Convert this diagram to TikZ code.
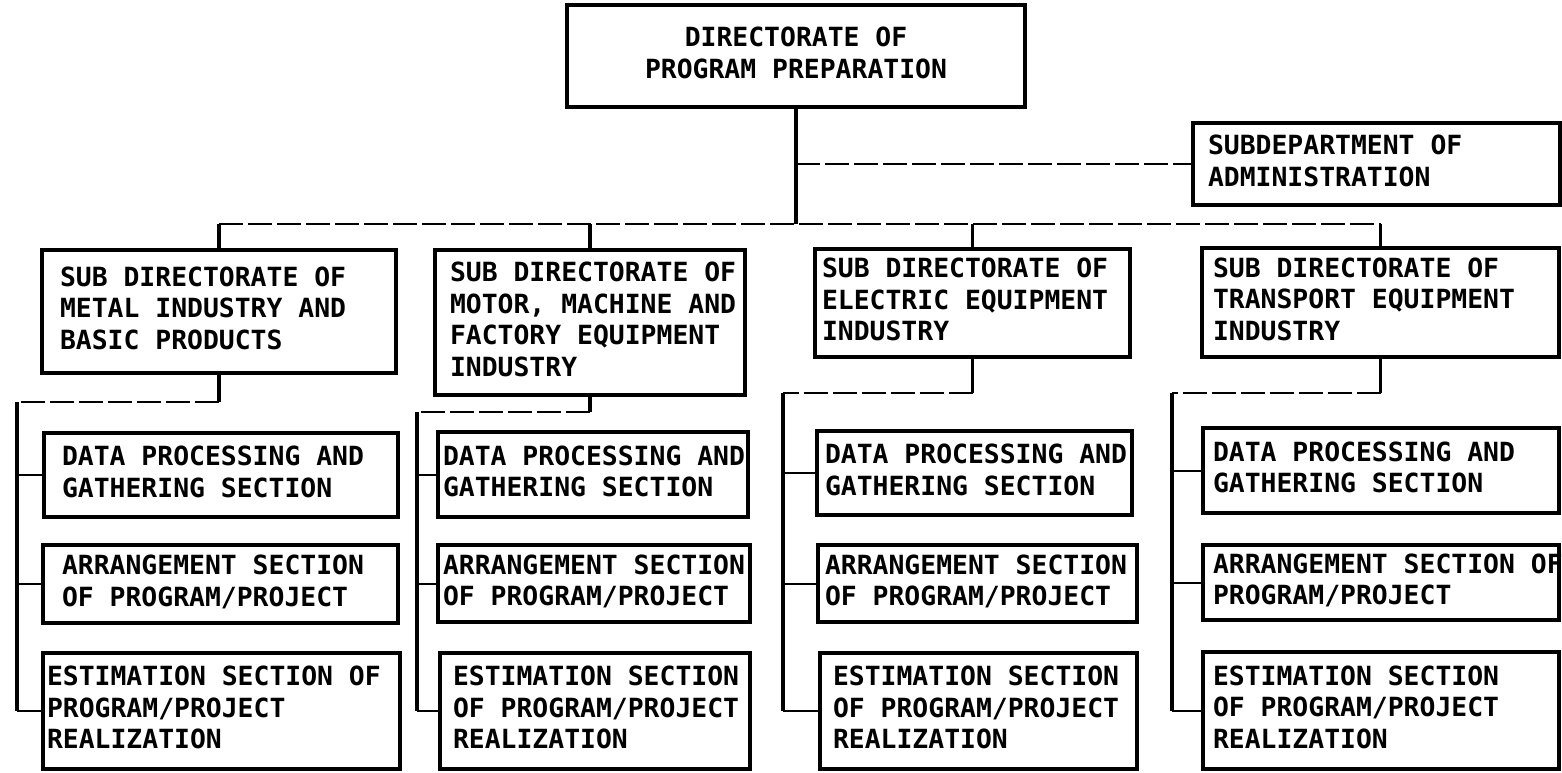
\documentclass[tikz,border=0pt]{standalone}
\usepackage{fontspec}
\newfontfamily\orgfont{DejaVu Sans Mono}
\begin{document}
\begin{tikzpicture}[x=0.5pt,y=-0.5pt,
  obox/.style={draw=black, line width=1.6pt, rectangle, inner ysep=0pt,
    font=\orgfont\bfseries\fontsize{13.2pt}{15.75pt}\selectfont},
  thickline/.style={draw=black, line width=1.7pt},
  conn/.style={draw=black, line width=1pt},
  dashline/.style={draw=black, line width=0.9pt, dash pattern=on 12pt off 2.5pt}]
\useasboundingbox (0,0) rectangle (1562,772);
\newcommand\obox[7]{%
  \pgfmathsetmacro\bw{(#4-#2)*0.5}%
  \pgfmathsetmacro\bh{(#5-#3)*0.5}%
  \pgfmathsetmacro\tw{(#4-#2-2*#6)*0.5}%
  \pgfmathsetmacro\ix{#6*0.5}%
  \node[obox, minimum width=\bw pt, minimum height=\bh pt, inner xsep=\ix pt]
    (#1) at ({(#2+#4)/2},{(#3+#5)/2})
    {\makebox[\tw pt][l]{\begin{tabular}{@{}l@{}}#7\end{tabular}}};}
% top
\node[obox, minimum width=229pt, minimum height=51pt] (top) at (796,56)
  {\begin{tabular}{@{}c@{}}DIRECTORATE OF\\PROGRAM PREPARATION\end{tabular}};
\obox{adm}{1193}{123}{1560}{205}{15}{SUBDEPARTMENT OF\\ADMINISTRATION}
% sub directorates
\obox{s1}{42}{250}{396}{373}{18}{SUB DIRECTORATE OF\\METAL INDUSTRY AND\\BASIC PRODUCTS}
\obox{s2}{435}{250}{745}{395}{15}{SUB DIRECTORATE OF\\MOTOR, MACHINE AND\\FACTORY EQUIPMENT\\INDUSTRY}
\obox{s3}{815}{249}{1130}{357}{7}{SUB DIRECTORATE OF\\ELECTRIC EQUIPMENT\\INDUSTRY}
\obox{s4}{1202}{248}{1559}{357}{11}{SUB DIRECTORATE OF\\TRANSPORT EQUIPMENT\\INDUSTRY}
% column 1
\obox{d1}{44}{433}{398}{517}{18}{DATA PROCESSING AND\\GATHERING SECTION}
\obox{a1}{43}{545}{398}{623}{19}{ARRANGEMENT SECTION\\OF PROGRAM/PROJECT}
\obox{e1}{43}{653}{400}{769}{4}{ESTIMATION SECTION OF\\PROGRAM/PROJECT\\REALIZATION}
% column 2
\obox{d2}{438}{432}{748}{517}{5}{DATA PROCESSING AND\\GATHERING SECTION}
\obox{a2}{438}{545}{750}{622}{5}{ARRANGEMENT SECTION\\OF PROGRAM/PROJECT}
\obox{e2}{440}{653}{750}{769}{13}{ESTIMATION SECTION\\OF PROGRAM/PROJECT\\REALIZATION}
% column 3
\obox{d3}{817}{431}{1132}{515}{8}{DATA PROCESSING AND\\GATHERING SECTION}
\obox{a3}{818}{545}{1137}{622}{7}{ARRANGEMENT SECTION\\OF PROGRAM/PROJECT}
\obox{e3}{820}{653}{1137}{769}{13}{ESTIMATION SECTION\\OF PROGRAM/PROJECT\\REALIZATION}
% column 4
\obox{d4}{1203}{428}{1559}{513}{10}{DATA PROCESSING AND\\GATHERING SECTION}
\obox{a4}{1203}{545}{1559}{620}{10}{ARRANGEMENT SECTION OF\\PROGRAM/PROJECT}
\obox{e4}{1203}{652}{1559}{769}{10}{ESTIMATION SECTION\\OF PROGRAM/PROJECT\\REALIZATION}
% connectors at the top
\coordinate (bus) at (796,224);
\draw[thickline] (top.south) -- (bus);
\draw[dashline] (top.south |- adm.west) -- (adm.west);
\draw[dashline] (s1.north |- bus) -- (s4.north |- bus);
\foreach \s in {s1,s2,s3,s4}{\draw[thickline] (\s.north |- bus) -- (\s.north);}
% column connectors
\coordinate (c1) at (17,402);
\coordinate (c2) at (417,412);
\coordinate (c3) at (783,393);
\coordinate (c4) at (1172,393);
\foreach \i in {1,2,3,4}{
  \draw[thickline] (s\i.south) -- (s\i.south |- c\i);
  \draw[dashline] (s\i.south |- c\i) -- (c\i);
  \draw[thickline] (c\i) -- (c\i |- e\i.west);
  \draw[conn] (c\i |- d\i.west) -- (d\i.west);
  \draw[conn] (c\i |- a\i.west) -- (a\i.west);
  \draw[conn] (c\i |- e\i.west) -- (e\i.west);
}
\end{tikzpicture}
\end{document}
